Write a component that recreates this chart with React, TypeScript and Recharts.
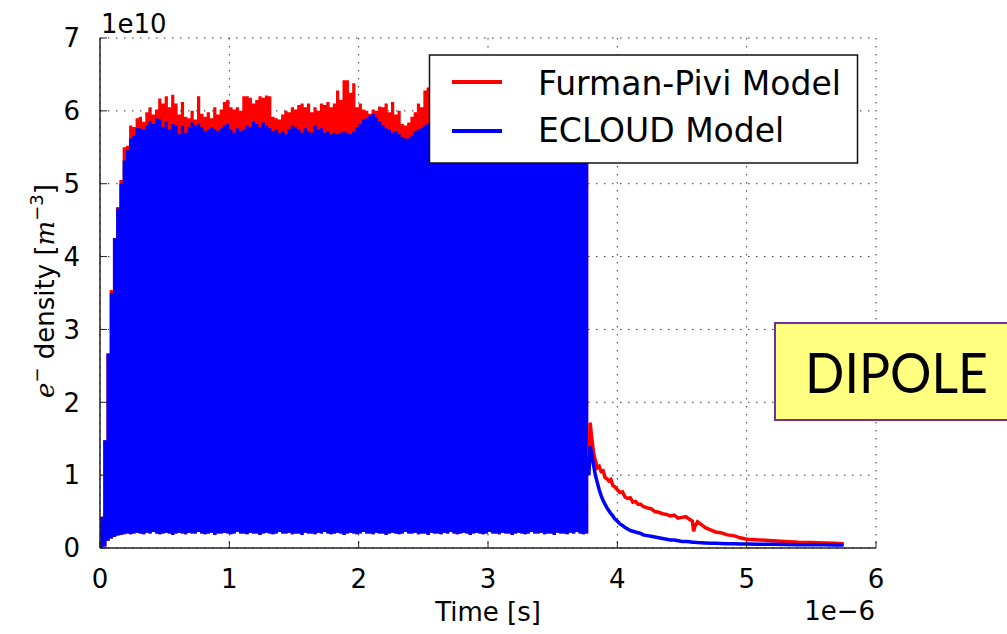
import React from 'react';
import { ComposedChart, Area, Line, XAxis, YAxis, CartesianGrid } from 'recharts';

// time unit: 1e-6 s ; density unit: 1e10 m^-3
const BUNCH_SPACING = 0.025;

const redTop = [
  0.43, 1.48, 2.67, 3.54, 4.25, 4.68, 5.05, 5.5, 5.52, 5.8,
  5.78, 5.9, 5.92, 5.85, 5.98, 6.05, 5.95, 6.02, 6.17, 6.1,
  6.2, 6.05, 6.22, 6.1, 5.95, 6.12, 5.92, 5.9, 6.0, 5.88,
  6.2, 5.96, 5.92, 5.98, 5.9, 6.05, 5.95, 6.02, 6.12, 6.15,
  6.05, 6.02, 6.05, 6.0, 6.2, 6.2, 6.18, 6.1, 6.15, 6.2,
  6.18, 6.21, 6.2, 5.92, 5.9, 5.88, 5.95, 6.0, 5.98, 6.05,
  6.02, 6.08, 6.1, 6.05, 6.1, 5.98, 6.05, 6.0, 6.1, 6.08,
  6.12, 6.05, 6.1, 6.28, 6.15, 6.42, 6.42, 6.25, 6.38, 6.05,
  6.1, 6.02, 6.0, 5.96, 6.02, 6.0, 6.06, 6.05, 6.1, 5.98,
  6.12, 5.95, 6.0, 5.82, 5.8, 5.84, 5.92, 5.98, 6.1, 6.05,
  6.28, 6.32, 6.4, 6.2, 6.1, 6.05, 6.15, 6.0, 6.08, 6.12,
  6.02, 5.98, 6.1, 6.05, 6.0, 6.12, 6.08, 5.95, 6.02, 6.1,
  6.05, 6.15, 6.0, 6.08, 6.1, 5.98, 6.04, 6.12, 6.06, 6.0,
  6.1, 6.05, 6.14, 6.02, 6.08, 6.0, 6.1, 6.06, 6.12, 6.02,
  6.05, 6.1, 6.0, 6.08, 6.04, 6.12, 6.06, 6.0, 6.1, 6.05,
  6.08, 6.02,
];

const blueTop = [
  0.43, 1.48, 2.67, 3.5, 4.25, 4.66, 5.0, 5.32, 5.46, 5.62,
  5.66, 5.76, 5.76, 5.74, 5.8, 5.86, 5.82, 5.9, 5.88, 5.78,
  5.85, 5.74, 5.82, 5.8, 5.68, 5.8, 5.7, 5.78, 5.84, 5.8,
  5.82, 5.78, 5.72, 5.74, 5.78, 5.75, 5.72, 5.76, 5.8, 5.82,
  5.74, 5.7, 5.76, 5.72, 5.74, 5.8, 5.78, 5.85, 5.82, 5.78,
  5.84, 5.8, 5.76, 5.72, 5.74, 5.7, 5.72, 5.68, 5.75, 5.8,
  5.78, 5.74, 5.7, 5.76, 5.72, 5.7, 5.8, 5.74, 5.76, 5.7,
  5.72, 5.68, 5.7, 5.68, 5.7, 5.72, 5.7, 5.68, 5.72, 5.78,
  5.82, 5.88, 5.9, 5.94, 5.96, 5.92, 5.85, 5.8, 5.76, 5.74,
  5.7, 5.72, 5.68, 5.64, 5.62, 5.62, 5.66, 5.72, 5.75, 5.76,
  5.8, 5.82, 5.8, 5.78, 5.76, 5.8, 5.84, 5.78, 5.8, 5.82,
  5.76, 5.74, 5.8, 5.82, 5.78, 5.84, 5.8, 5.74, 5.78, 5.82,
  5.8, 5.85, 5.78, 5.8, 5.83, 5.76, 5.8, 5.84, 5.8, 5.76,
  5.82, 5.8, 5.85, 5.78, 5.8, 5.76, 5.82, 5.8, 5.84, 5.78,
  5.8, 5.84, 5.78, 5.82, 5.8, 5.85, 5.8, 5.76, 5.82, 5.8,
  5.82, 5.78,
];

const blueLow = [
  0.0, 0.02, 0.1, 0.13, 0.15, 0.17, 0.18, 0.19, 0.2, 0.19,
  0.2, 0.21, 0.2, 0.19, 0.21, 0.2, 0.22, 0.2, 0.19, 0.2,
  0.21, 0.2, 0.18, 0.2, 0.21, 0.2, 0.19, 0.21, 0.2, 0.2,
  0.22, 0.2, 0.19, 0.2, 0.21, 0.18, 0.2, 0.2, 0.21, 0.2,
  0.19, 0.2, 0.22, 0.2, 0.2, 0.19, 0.21, 0.2, 0.2, 0.18,
  0.2, 0.21, 0.2, 0.19, 0.2, 0.22, 0.2, 0.2, 0.21, 0.19,
  0.2, 0.2, 0.18, 0.21, 0.2, 0.2, 0.19, 0.21, 0.2, 0.22,
  0.2, 0.19, 0.2, 0.21, 0.2, 0.18, 0.2, 0.21, 0.2, 0.19,
  0.2, 0.22, 0.2, 0.2, 0.19, 0.21, 0.2, 0.2, 0.18, 0.2,
  0.21, 0.2, 0.19, 0.2, 0.22, 0.2, 0.2, 0.21, 0.19, 0.2,
  0.2, 0.18, 0.21, 0.2, 0.2, 0.19, 0.21, 0.2, 0.22, 0.2,
  0.19, 0.2, 0.21, 0.2, 0.18, 0.2, 0.21, 0.2, 0.19, 0.2,
  0.22, 0.2, 0.2, 0.19, 0.21, 0.2, 0.2, 0.18, 0.2, 0.21,
  0.2, 0.19, 0.2, 0.22, 0.2, 0.2, 0.21, 0.19, 0.2, 0.2,
  0.18, 0.21, 0.2, 0.2, 0.19, 0.21, 0.2, 0.22, 0.2, 0.19,
  0.2, 0.21,
];

const tailTimes = [
  3.78, 3.79, 3.8, 3.815, 3.83, 3.845, 3.86, 3.875, 3.89, 3.905,
  3.92, 3.935, 3.95, 3.965, 3.98, 4.0, 4.02, 4.04, 4.06, 4.08,
  4.1, 4.12, 4.14, 4.16, 4.18, 4.2, 4.23, 4.26, 4.29, 4.32,
  4.35, 4.38, 4.41, 4.44, 4.47, 4.5, 4.53, 4.56, 4.58, 4.59,
  4.6, 4.62, 4.65, 4.68, 4.72, 4.76, 4.8, 4.85, 4.9, 4.95,
  5.0, 5.1, 5.2, 5.3, 5.4, 5.5, 5.6, 5.68, 5.75,
];

const redTail = [
  1.25, 1.72, 1.55, 1.32, 1.2, 1.1, 1.12, 1.05, 1.06, 0.97,
  0.95, 0.92, 0.94, 0.86, 0.84, 0.8, 0.76, 0.77, 0.7, 0.68,
  0.69, 0.63, 0.64, 0.6, 0.6, 0.57, 0.55, 0.54, 0.5, 0.49,
  0.47, 0.46, 0.44, 0.45, 0.41, 0.42, 0.43, 0.39, 0.37, 0.23,
  0.3, 0.36, 0.32, 0.28, 0.25, 0.22, 0.21, 0.18, 0.17, 0.14,
  0.12, 0.11, 0.1, 0.09, 0.08, 0.075, 0.07, 0.065, 0.06,
];

const blueTail = [
  1.0, 1.4, 1.3, 1.15, 1.0, 0.9, 0.8, 0.72, 0.65, 0.6,
  0.55, 0.51, 0.47, 0.44, 0.4, 0.37, 0.33, 0.31, 0.28, 0.26,
  0.24, 0.23, 0.22, 0.21, 0.2, 0.18, 0.17, 0.16, 0.15, 0.14,
  0.13, 0.12, 0.11, 0.11, 0.1, 0.09, 0.09, 0.085, 0.08, 0.08,
  0.078, 0.075, 0.072, 0.07, 0.066, 0.064, 0.062, 0.06, 0.058, 0.056,
  0.055, 0.052, 0.05, 0.048, 0.046, 0.045, 0.043, 0.042, 0.04,
];

const xTicks = [0, 1, 2, 3, 4, 5, 6];
const yTicks = [0, 1, 2, 3, 4, 5, 6, 7];
const seriesNames = ['Furman-Pivi Model', 'ECLOUD Model'];
const seriesColors = ['#ff0000', '#0000ff'];

const data = [
  ...redTop.map((r, i) => ({
    t: Math.round(i * BUNCH_SPACING * 1000) / 1000,
    red: [blueLow[i], r],
    blue: [blueLow[i], blueTop[i]],
  })),
  ...tailTimes.map((t, i) => ({ t, redTail: redTail[i], blueTail: blueTail[i] })),
];

const FONT = 'DejaVu Sans';
const tickStyle = { fontFamily: FONT, fontSize: 26, fill: '#000' };
const axisLine = { stroke: '#222', strokeWidth: 1.5 };
const tickLine = { stroke: '#222', strokeWidth: 1 };

export default function App() {
  return (
    <div style={{ position: 'absolute', left: 0, top: 0, width: 1007, height: 634, background: '#fff', overflow: 'hidden' }}>
      <ComposedChart
        width={1007}
        height={634}
        data={data}
        margin={{ top: 38, right: 131, bottom: 0, left: 0 }}
      >
        <CartesianGrid stroke="#333" strokeDasharray="1.5 6.5" strokeWidth={1} />
        <XAxis
          dataKey="t"
          type="number"
          domain={[0, 6]}
          ticks={xTicks}
          interval={0}
          allowDataOverflow
          height={86}
          tickSize={-7}
          tickMargin={29}
          tick={tickStyle}
          axisLine={axisLine}
          tickLine={tickLine}
        />
        <XAxis
          xAxisId="top"
          orientation="top"
          dataKey="t"
          type="number"
          domain={[0, 6]}
          ticks={xTicks}
          interval={0}
          allowDataOverflow
          height={0}
          tickSize={-7}
          tick={false}
          axisLine={axisLine}
          tickLine={tickLine}
        />
        <YAxis
          type="number"
          domain={[0, 7]}
          ticks={yTicks}
          interval={0}
          allowDataOverflow
          width={100}
          tickSize={-7}
          tickMargin={27}
          tick={tickStyle}
          axisLine={axisLine}
          tickLine={tickLine}
        />
        <YAxis
          yAxisId="right"
          orientation="right"
          type="number"
          domain={[0, 7]}
          ticks={yTicks}
          interval={0}
          allowDataOverflow
          width={0}
          tickSize={-7}
          tick={false}
          axisLine={axisLine}
          tickLine={tickLine}
        />
        <Area
          dataKey="red"
          type="stepAfter"
          fill={seriesColors[0]}
          fillOpacity={1}
          stroke="none"
          isAnimationActive={false}
          connectNulls={false}
        />
        <Area
          dataKey="blue"
          type="stepAfter"
          fill={seriesColors[1]}
          fillOpacity={1}
          stroke="none"
          isAnimationActive={false}
          connectNulls={false}
        />
        <Line
          dataKey="redTail"
          type="linear"
          stroke={seriesColors[0]}
          strokeWidth={3.5}
          dot={false}
          isAnimationActive={false}
          connectNulls={false}
        />
        <Line
          dataKey="blueTail"
          type="linear"
          stroke={seriesColors[1]}
          strokeWidth={3.5}
          dot={false}
          isAnimationActive={false}
          connectNulls={false}
        />
        <Line
          xAxisId="top"
          yAxisId="right"
          dataKey="blueTail"
          stroke="none"
          dot={false}
          isAnimationActive={false}
          legendType="none"
        />
      </ComposedChart>
      <svg
        width={1007}
        height={634}
        style={{ position: 'absolute', left: 0, top: 0, pointerEvents: 'none' }}
      >
        <text x={101} y={33} fontFamily={FONT} fontSize={26} fill="#000">1e10</text>
        <text x={875} y={620} fontFamily={FONT} fontSize={26} fill="#000" textAnchor="end">1e−6</text>
        <text x={488} y={621} fontFamily={FONT} fontSize={26} fill="#000" textAnchor="middle">Time [s]</text>
        <text
          x={54}
          y={291}
          transform="rotate(-90 54 291)"
          fontFamily={FONT}
          fontSize={26}
          fill="#000"
          textAnchor="middle"
        >
          <tspan fontFamily="DejaVu Serif" fontStyle="italic">e</tspan>
          <tspan fontSize={18} dy={-11}>−</tspan>
          <tspan dy={11}> density [</tspan>
          <tspan fontFamily="DejaVu Serif" fontStyle="italic">m</tspan>
          <tspan fontSize={18} dy={-11}>−3</tspan>
          <tspan dy={11}>]</tspan>
        </text>
        <rect x={429.5} y={55} width={428} height={108} fill="#fff" stroke="#111" strokeWidth={1.5} />
        {seriesNames.map((name, i) => (
          <g key={name}>
            <line x1={452} x2={502} y1={82 + i * 49} y2={82 + i * 49} stroke={seriesColors[i]} strokeWidth={4} />
            <text x={538} y={95 + i * 47} fontFamily={FONT} fontSize={33} fill="#000">{name}</text>
          </g>
        ))}
        <rect x={775} y={323} width={250} height={97} fill="#ffff80" stroke="#7030a0" strokeWidth={2} />
        <text x={805} y={393} fontFamily="Lato" fontSize={56} fill="#000" textLength={183} lengthAdjust="spacingAndGlyphs">DIPOLE</text>
      </svg>
    </div>
  );
}
